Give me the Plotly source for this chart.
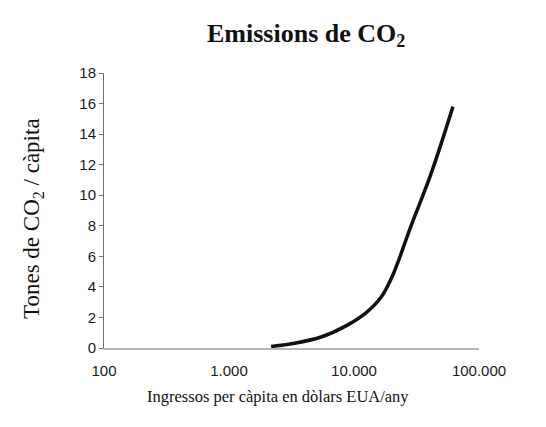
import plotly.graph_objects as go

income = [2170, 3440, 5450, 8630, 12470, 16400, 20500, 28600, 41300, 61900]
co2 = [0.1, 0.33, 0.72, 1.45, 2.3, 3.3, 4.8, 8.0, 11.4, 15.8]

x_tickvals = [100, 1000, 10000, 100000]
x_ticktext = ["100", "1.000", "10.000", "100.000"]
y_tickvals = [0, 2, 4, 6, 8, 10, 12, 14, 16, 18]

title_text = "<b>Emissions de CO<sub>2</sub></b>"
x_title = "Ingressos per càpita en dòlars EUA/any"
y_title = "Tones de CO<sub>2</sub> / càpita"

W, H = 546, 427
L, R, T, B = 96, 75, 65, 87
pw, ph = W - L - R, H - T - B

def px(x):
    return (x - L) / pw

def py(y):
    return (H - B - y) / ph

serif = "Liberation Serif, Times New Roman, serif"

fig = go.Figure()
fig.add_trace(go.Scatter(
    x=income, y=co2, mode="lines",
    line=dict(color="#111111", width=3.5, shape="spline", smoothing=1.0),
    hoverinfo="skip", showlegend=False,
))

fig.update_layout(
    width=W, height=H,
    margin=dict(l=L, r=R, t=T, b=B),
    paper_bgcolor="white", plot_bgcolor="white",
    font=dict(family="Liberation Sans, Arial, sans-serif", color="#1a1a1a"),
    xaxis=dict(
        type="log", range=[2, 5],
        tickvals=x_tickvals, ticktext=x_ticktext,
        showgrid=False, zeroline=False,
        showline=True, linecolor="#b5b5b5", linewidth=1.5,
        ticks="outside", ticklen=8, tickcolor="rgba(0,0,0,0)",
        tickfont=dict(size=15, color="#1a1a1a"),
    ),
    yaxis=dict(
        range=[0, 18],
        tickvals=y_tickvals,
        showgrid=False, zeroline=False,
        showline=True, linecolor="#6f6f6f", linewidth=1,
        ticks="outside", ticklen=4, tickcolor="#6f6f6f",
        tickfont=dict(size=15, color="#1a1a1a"),
    ),
    annotations=[
        dict(text=title_text, x=px(298), y=py(27), xref="paper", yref="paper",
             xanchor="center", yanchor="middle", showarrow=False,
             font=dict(family=serif, size=26, color="#111111")),
        dict(text=x_title, x=px(270), y=py(388), xref="paper", yref="paper",
             xanchor="center", yanchor="middle", showarrow=False,
             font=dict(family=serif, size=16.5, color="#111111")),
        dict(text=y_title, x=px(25), y=py(211), xref="paper", yref="paper",
             xanchor="center", yanchor="middle", textangle=-90, showarrow=False,
             font=dict(family=serif, size=23, color="#111111")),
    ],
)

fig.write_html("out.html")
